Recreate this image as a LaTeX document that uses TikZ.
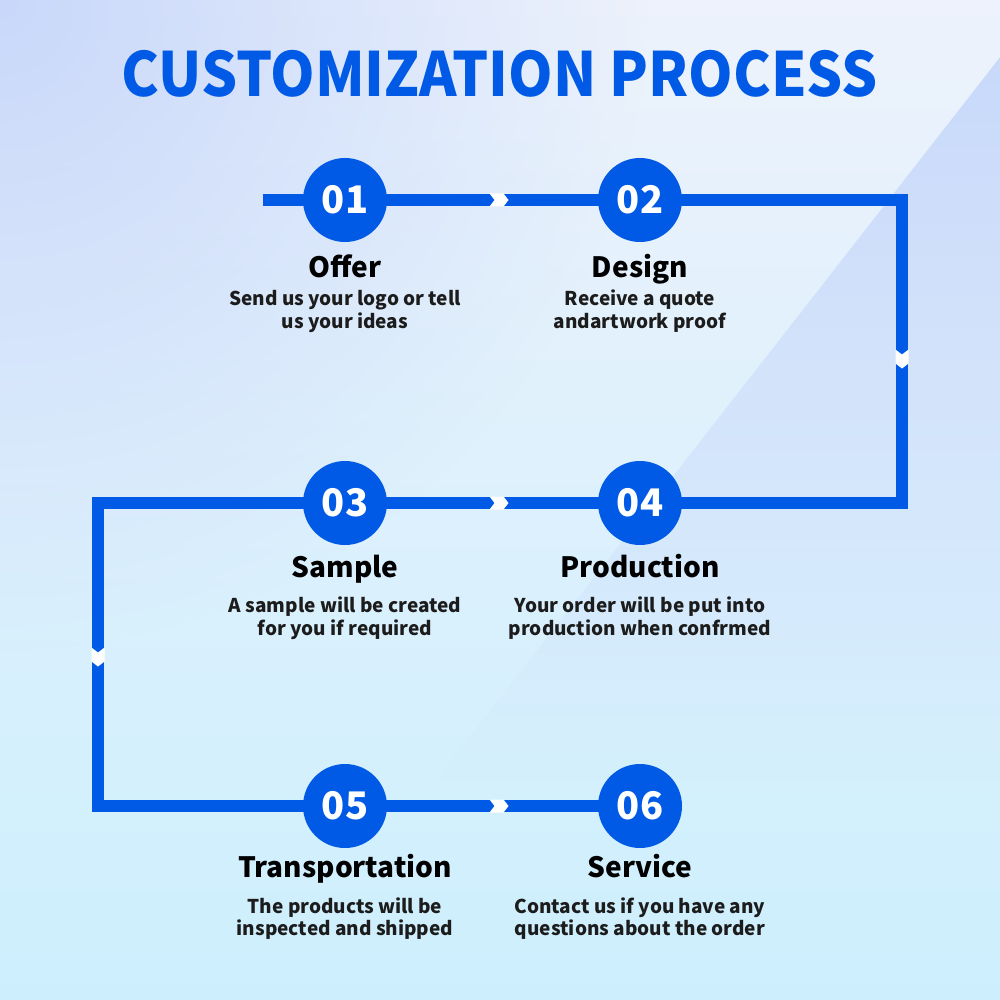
\documentclass[tikz,border=0pt]{standalone}
\usepackage{fontspec}
\setmainfont{Noto Sans CJK SC}
\usetikzlibrary{fadings,shadings}
\definecolor{flowblue}{HTML}{005AE6}
\definecolor{bgTop}{HTML}{EDF2FC}
\definecolor{bgMid}{HTML}{E4F3FE}
\definecolor{bgBot}{HTML}{CDEFFD}
\definecolor{bgCorner}{HTML}{C9D8FA}
\definecolor{triFill}{HTML}{C8D9FA}
\definecolor{desccol}{HTML}{1C1C1C}
\tikzfading[name=fadedown, top color=transparent!0, middle color=transparent!35, bottom color=transparent!100]
\tikzfading[name=radfade, inner color=transparent!0, outer color=transparent!100]
\pgfdeclarelayer{bglayer}
\pgfdeclarelayer{lines}
\pgfsetlayers{bglayer,lines,main}
\tikzset{
  stepcirc/.style={circle, fill=flowblue, minimum size=84pt, inner sep=0pt, text=white,
    font=\bfseries\fontsize{38}{38}\selectfont},
  flow/.style={draw=flowblue, line width=12pt, line join=miter},
  titletext/.style={anchor=base, text=flowblue, font=\bfseries\fontsize{61}{61}\selectfont, inner sep=0pt, xscale=0.93},
  headtext/.style={anchor=base, text=black, font=\bfseries\fontsize{28}{28}\selectfont, inner sep=0pt},
  desctext/.style={anchor=base, text=desccol, font=\bfseries\fontsize{19}{19}\selectfont, inner sep=0pt},
  pics/chev/.style={code={\fill[white] (-9,-6.5) -- (5,-6.5) -- (10,0) -- (5,6.5) -- (-9,6.5) -- (-4,0) -- cycle;}}
}
\begin{document}
\begin{tikzpicture}[x=1pt,y=-1pt]
\useasboundingbox (0,0) rectangle (1000,1000);
\begin{pgfonlayer}{bglayer}
\shade[top color=bgTop, middle color=bgMid, bottom color=bgBot] (0,0) rectangle (1000,1000);
\begin{scope}
\clip (0,0) rectangle (1000,1000);
\fill[bgCorner, path fading=radfade] (0,0) circle (650);
\end{scope}
\fill[triFill, path fading=fadedown] (1000,57) -- (1000,780) -- (436,780) -- cycle;
\end{pgfonlayer}

\node[titletext] (title) at (500,97) {CUSTOMIZATION PROCESS};

\node[stepcirc] (c1) at (345,200) {01};
\node[stepcirc] (c2) at (640,200) {02};
\node[stepcirc] (c3) at (345,503) {03};
\node[stepcirc] (c4) at (640,503) {04};
\node[stepcirc] (c5) at (345,806) {05};
\node[stepcirc] (c6) at (640,806) {06};

\coordinate (s) at (263,200);
\coordinate (k1) at (902,200);
\coordinate (k2) at (902,503);
\coordinate (k3) at (98,503);
\coordinate (k4) at (98,806);

\begin{pgfonlayer}{lines}
\draw[flow] (s) -- (c1.center) -- (c2.center) -- (k1) -- (k2) -- (c4.center) -- (c3.center) -- (k3) -- (k4) -- (c5.center) -- (c6.center);
\end{pgfonlayer}

\pic at (498.5,200) {chev};
\pic at (498.5,503) {chev};
\pic at (498.5,806) {chev};
\pic[rotate=-90] at (902,358.5) {chev};
\pic[rotate=-90] at (98,656.5) {chev};

\node[headtext] (h1) at (345,277) {Offer};
\node[desctext] (d1a) at (345,305) {Send us your logo or tell};
\node[desctext] (d1b) at (345,328) {us your ideas};

\node[headtext] (h2) at (640,277) {Design};
\node[desctext] (d2a) at (640,305) {Receive a quote};
\node[desctext] (d2b) at (640,328) {andartwork proof};

\node[headtext] (h3) at (345,577) {Sample};
\node[desctext] (d3a) at (345,612) {A sample will be created};
\node[desctext] (d3b) at (345,635) {for you if required};

\node[headtext] (h4) at (640,577) {Production};
\node[desctext] (d4a) at (640,612) {Your order will be put into};
\node[desctext] (d4b) at (640,635) {production when confrmed};

\node[headtext] (h5) at (345,877) {Transportation};
\node[desctext] (d5a) at (345,913) {The products will be};
\node[desctext] (d5b) at (345,935) {inspected and shipped};

\node[headtext] (h6) at (640,877) {Service};
\node[desctext] (d6a) at (640,913) {Contact us if you have any};
\node[desctext] (d6b) at (640,935) {questions about the order};
\end{tikzpicture}
\end{document}
